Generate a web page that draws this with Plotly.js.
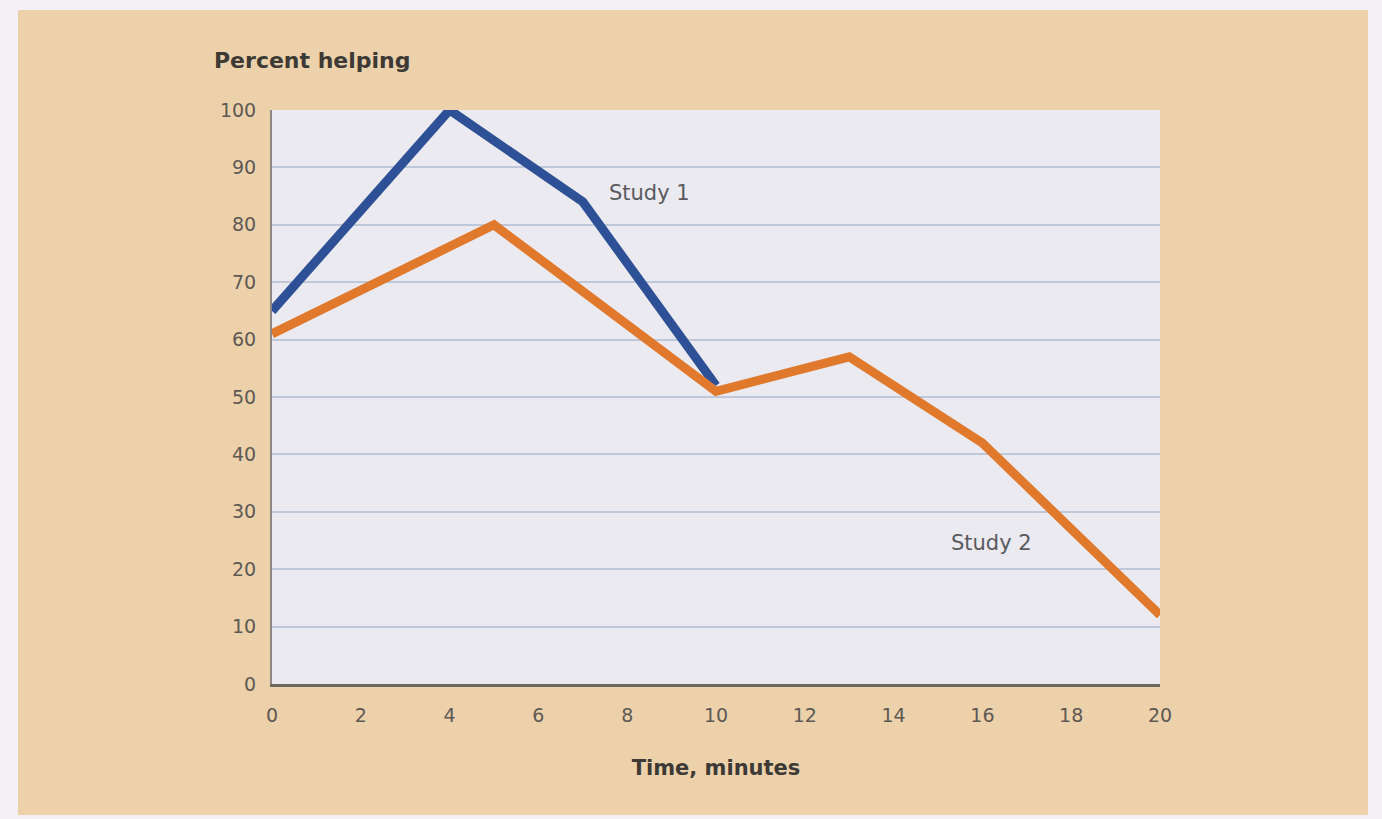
<!DOCTYPE html>
<html>
<head>
<meta charset="utf-8">
<script src="https://cdn.plot.ly/plotly-3.0.1.min.js"></script>
<style>
  html, body { margin: 0; padding: 0; background: #f3f1f6; width: 1382px; height: 819px; overflow: hidden; }
  #chart { position: absolute; left: 18px; top: 10px; width: 1350px; height: 805px; }
</style>
</head>
<body>
<div id="chart"></div>
<script>
// Data
const study1Time = [0, 4, 7, 10];
const study1Pct = [65, 100, 84, 52];
const study2Time = [0, 5, 10, 13, 16, 20];
const study2Pct = [61, 80, 51, 57, 42, 12];
const xTicks = [0, 2, 4, 6, 8, 10, 12, 14, 16, 18, 20];
const yTicks = [0, 10, 20, 30, 40, 50, 60, 70, 80, 90, 100];
const seriesNames = ["Study 1", "Study 2"];
const labelPos = [[8.5, 85.5], [16.2, 24.5]];

const traces = [
  { x: study1Time, y: study1Pct, name: seriesNames[0], mode: "lines", type: "scatter",
    line: { color: "#2d5096", width: 9 }, cliponaxis: false },
  { x: study2Time, y: study2Pct, name: seriesNames[1], mode: "lines", type: "scatter",
    line: { color: "#e0792c", width: 9 }, cliponaxis: false }
];

const font = "DejaVu Sans, Verdana, sans-serif";
const layout = {
  width: 1350, height: 805,
  paper_bgcolor: "#ecd1ab",
  plot_bgcolor: "#eaeaf0",
  showlegend: false,
  margin: { l: 254, r: 208, t: 100, b: 131 },
  font: { family: font, color: "#555", size: 18 },
  xaxis: {
    range: [0, 20], tickvals: xTicks, ticktext: xTicks.map(String),
    showgrid: false, zeroline: false, showline: true, linecolor: "#6b6763", linewidth: 3,
    ticks: "outside", ticklen: 12, tickcolor: "rgba(0,0,0,0)",
    tickfont: { size: 19, color: "#5e5954" },
    title: { text: "<b>Time, minutes</b>", font: { size: 21, color: "#3d3935" }, standoff: 36 },
    fixedrange: true
  },
  yaxis: {
    range: [0, 100], tickvals: yTicks, ticktext: yTicks.map(String),
    showgrid: true, gridcolor: "#bfc8d8", gridwidth: 2, zeroline: false,
    showline: true, linecolor: "#8c8884", linewidth: 2,
    ticks: "outside", ticklen: 10, tickcolor: "rgba(0,0,0,0)",
    tickfont: { size: 19, color: "#5e5954" },
    fixedrange: true
  },
  annotations: [
    { x: labelPos[0][0], y: labelPos[0][1], xref: "x", yref: "y", text: seriesNames[0],
      showarrow: false, font: { size: 21, color: "#5a5a5e" } },
    { x: labelPos[1][0], y: labelPos[1][1], xref: "x", yref: "y", text: seriesNames[1],
      showarrow: false, font: { size: 21, color: "#5a5a5e" } },
    { x: 0, y: 0, xref: "paper", yref: "paper", text: "<b>Percent helping</b>",
      showarrow: false, xanchor: "left", yanchor: "middle", font: { size: 22, color: "#3d3935" } }
  ]
};
// place title annotation in pixel-derived paper coords
const plotW = 1350 - 254 - 208, plotH = 805 - 100 - 131;
layout.annotations[2].x = (194 - 254) / plotW;
layout.annotations[2].y = 1 + (100 - 50) / plotH;

Plotly.newPlot("chart", traces, layout, { displayModeBar: false, staticPlot: true });
</script>
</body>
</html>
